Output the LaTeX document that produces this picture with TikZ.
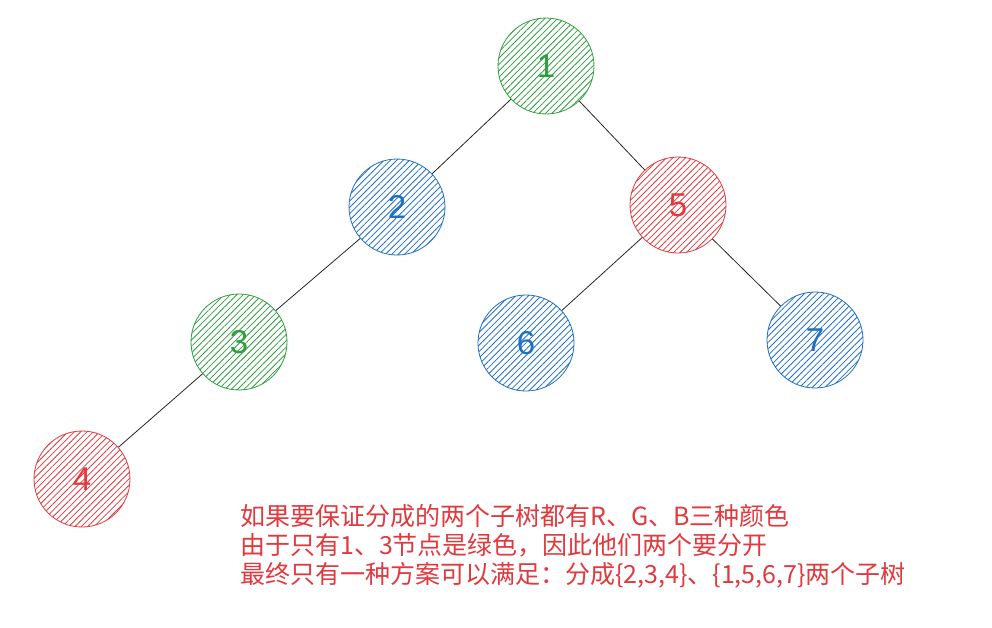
\documentclass[tikz,border=0pt]{standalone}
\usepackage{fontspec}
\setmainfont{Liberation Sans}
\newfontfamily\cjk{Noto Sans CJK SC}
\usetikzlibrary{patterns.meta}
\definecolor{cg}{HTML}{2E9E3E}
\definecolor{cb}{HTML}{1F6FC4}
\definecolor{cr}{HTML}{E0393E}
\tikzset{
  tn/.style={circle,minimum size=96pt,inner sep=0pt,draw=#1,line width=0.8pt,pattern={Lines[angle=45,distance=4.5pt,line width=0.8pt]},pattern color=#1,text=#1,font=\fontsize{33}{33}\selectfont},
  ed/.style={draw=black!85,line width=0.8pt}
}
\begin{document}
\begin{tikzpicture}[x=1pt,y=-1pt]
\useasboundingbox (0,0) rectangle (992,627);
\node[tn=cg] (n1) at (546,66) {1};
\node[tn=cb] (n2) at (397,207) {2};
\node[tn=cr] (n5) at (678,205) {5};
\node[tn=cg] (n3) at (239,342) {3};
\node[tn=cb] (n6) at (526,343) {6};
\node[tn=cb] (n7) at (815,340) {7};
\node[tn=cr] (n4) at (82,479) {4};
\draw[ed] (n1)--(n2); \draw[ed] (n1)--(n5);
\draw[ed] (n2)--(n3); \draw[ed] (n3)--(n4);
\draw[ed] (n5)--(n6); \draw[ed] (n5)--(n7);
\node[anchor=north west,align=left,text=cr,font=\cjk\fontsize{25}{29}\selectfont,inner sep=0pt] (txt) at (240,504)
{如果要保证分成的两个子树都有R、G、B三种颜色\\由于只有1、3节点是绿色，因此他们两个要分开\\最终只有一种方案可以满足：分成\{2,3,4\}、\{1,5,6,7\}两个子树};
\end{tikzpicture}
\end{document}
